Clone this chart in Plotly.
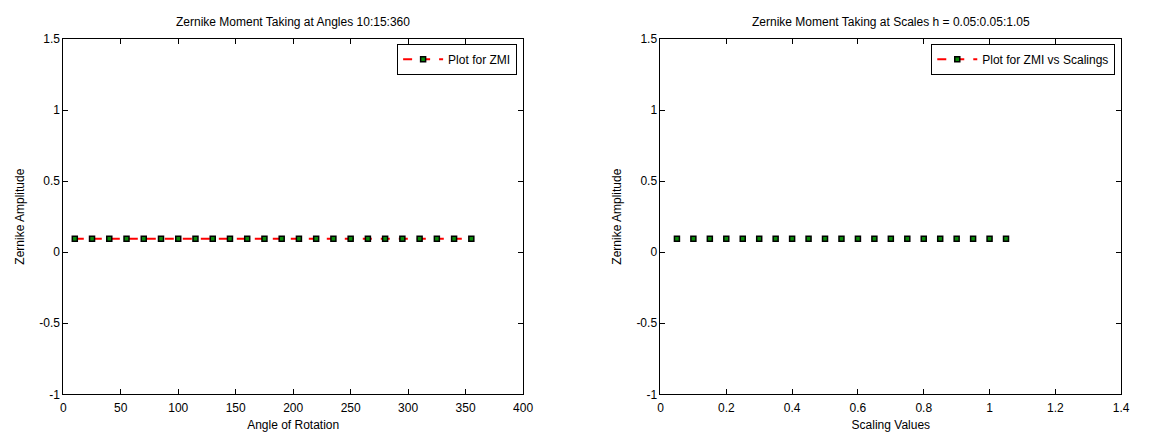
import plotly.graph_objects as go

angles = list(range(10, 361, 15))
angle_amp = [0.095] * len(angles)
scales = [round(0.05 * k, 2) for k in range(1, 22)]
scale_amp = [0.095] * len(scales)

title_left = "Zernike Moment Taking at Angles 10:15:360"
title_right = "Zernike Moment Taking at Scales h = 0.05:0.05:1.05"
y_ticks = [-1, -0.5, 0, 0.5, 1, 1.5]
y_ticktext = ["-1", "-0.5", "0", "0.5", "1", "1.5"]
x1_ticks = [0, 50, 100, 150, 200, 250, 300, 350, 400]
x2_ticks = [0, 0.2, 0.4, 0.6, 0.8, 1, 1.2, 1.4]
x2_ticktext = ["0", "0.2", "0.4", "0.6", "0.8", "1", "1.2", "1.4"]

W, H = 1149, 442
font = dict(family="Liberation Sans, Arial, sans-serif", size=12, color="black")

marker = dict(symbol="square", size=5, color="#0a8a0a", line=dict(color="black", width=1.5))
line = dict(color="red", width=2, dash="dash")

fig = go.Figure()
fig.add_trace(go.Scatter(x=angles, y=angle_amp, mode="lines+markers", line=line, marker=marker,
                         name="Plot for ZMI", xaxis="x", yaxis="y", legend="legend"))
fig.add_trace(go.Scatter(x=scales, y=scale_amp, mode="markers", marker=marker,
                         showlegend=False, xaxis="x2", yaxis="y2"))
fig.add_trace(go.Scatter(x=[None], y=[None], mode="lines+markers", line=line, marker=marker,
                         name="Plot for ZMI vs Scalings", xaxis="x2", yaxis="y2", legend="legend2"))

x1d = [61 / W, 526 / W]
x2d = [665 / W, 1131 / W]
yd = [1 - 400 / H, 1 - 33 / H]

ax_common = dict(showgrid=False, zeroline=False, showline=True, linecolor="black", linewidth=1,
                 mirror="ticks", ticks="inside", ticklen=5, tickcolor="black", tickfont=font)

fig.update_layout(
    width=W, height=H,
    margin=dict(l=0, r=0, t=0, b=0),
    paper_bgcolor="white", plot_bgcolor="white",
    font=font,
    xaxis=dict(domain=x1d, range=[0, 400], tickvals=x1_ticks, anchor="y", ticklabelstandoff=2,
               title=dict(text="Angle of Rotation", font=font, standoff=6), **ax_common),
    yaxis=dict(domain=yd, range=[-1, 1.5], tickvals=y_ticks, ticktext=y_ticktext, anchor="x",
               title=dict(text="Zernike Amplitude", font=font, standoff=12), **ax_common),
    xaxis2=dict(domain=x2d, range=[0, 1.4], tickvals=x2_ticks, ticktext=x2_ticktext, anchor="y2",
                ticklabelstandoff=2,
                title=dict(text="Scaling Values", font=font, standoff=6), **ax_common),
    yaxis2=dict(domain=yd, range=[-1, 1.5], tickvals=y_ticks, ticktext=y_ticktext, anchor="x2",
                title=dict(text="Zernike Amplitude", font=font, standoff=12), **ax_common),
    legend=dict(x=x1d[1] - 6 / W, y=yd[1] - 5 / H, xanchor="right", yanchor="top",
                bordercolor="black", borderwidth=1, bgcolor="white", font=font,
                tracegroupgap=0, itemwidth=40),
    legend2=dict(x=x2d[1] - 6 / W, y=yd[1] - 5 / H, xanchor="right", yanchor="top",
                 bordercolor="black", borderwidth=1, bgcolor="white", font=font,
                 tracegroupgap=0, itemwidth=40),
    annotations=[
        dict(text=title_left, x=(x1d[0] + x1d[1]) / 2, y=1 - 15 / H, xref="paper", yref="paper",
             showarrow=False, font=font, xanchor="center", yanchor="middle"),
        dict(text=title_right, x=(x2d[0] + x2d[1]) / 2, y=1 - 15 / H, xref="paper", yref="paper",
             showarrow=False, font=font, xanchor="center", yanchor="middle"),
    ],
)

fig.write_html("out.html", config={"displayModeBar": False},
               post_script="document.body.style.margin='0';document.body.style.overflow='hidden';")
